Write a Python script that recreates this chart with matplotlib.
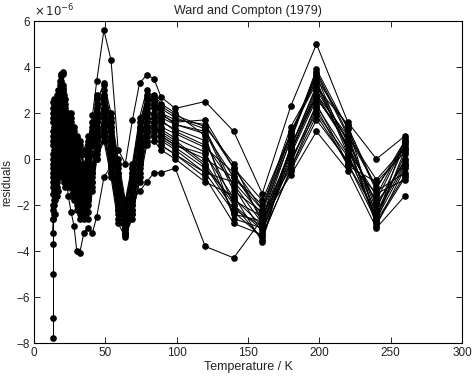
import matplotlib
matplotlib.use("Agg")
import matplotlib.pyplot as plt

plt.rcParams['font.family'] = ['Liberation Sans', 'DejaVu Sans']

# temperatures (K) shared by all fits
temps = [13, 14, 15, 16, 17, 18, 19, 20, 21, 22, 24, 26, 28, 30, 32, 35, 38, 41, 44,
         49, 54, 59, 64, 69, 74, 79, 84, 89, 99, 120, 140, 160, 180, 198, 220, 240, 260]

# residuals in units of 1e-6, one list per fit
s01 = [1.2, 2.0, 0.8, 2.4, 1.5, 3.0, 3.6, 3.8, 2.2, 1.8, 1.0, 1.6, 0.4, 0.9, -0.6, 0.2, 0.8, 1.9, 3.4,
       5.6, 4.3, 0.4, -0.2, 1.7, 3.3, 3.65, 3.5, 2.7, 2.2, 2.5, 1.2, -1.5, 2.3, 5.0, 1.6, 0.0, 1.0]
s02 = [-0.8, -1.8, -0.5, -1.2, 0.3, -0.6, 0.5, -0.2, -1.0, -0.4, -1.6, -2.3, -2.9, -4.0, -4.1, -3.2, -3.0, -3.2, -2.5,
       -0.8, -0.3, -1.2, -2.0, -1.8, -1.4, -1.0, -0.6, -0.6, -0.4, -3.8, -4.3, -2.6, -0.7, 1.2, -0.5, -3.0, -1.6]
s03 = [2.5, 1.0, 2.2, 0.6, 2.8, 1.9, 3.4, 2.6, 1.4, 2.0, 0.3, 0.9, -0.8, -0.2, -1.8, -2.3, -1.0, 0.2, 1.6,
       2.4, 1.2, -1.0, -2.6, -1.2, 0.8, 2.4, 2.6, 1.9, 1.6, 1.7, -0.4, -2.2, 1.4, 3.4, 0.2, -2.6, 0.9]
s04 = [-1.5, 0.4, -0.6, 1.2, 0.2, 2.2, 1.0, 2.9, 0.8, 1.5, -0.5, 0.5, -1.2, -0.6, -2.2, -1.4, -2.3, -0.4, 0.9,
       1.8, 0.2, -1.8, -3.2, -2.0, 0.2, 1.6, 1.8, 1.3, 0.9, 0.3, -2.4, -2.7, 0.9, 3.9, 1.3, -1.4, -0.6]
s05 = [0.6, 1.8, 1.2, 2.6, 1.6, 3.2, 2.0, 3.7, 1.8, 2.4, 1.2, 1.8, 0.6, 0.8, -0.4, -0.8, 0.2, 1.0, 2.2,
       3.0, 1.8, -0.2, -2.2, -0.6, 1.4, 2.8, 2.5, 2.2, 1.8, 1.3, -1.2, -3.2, 0.2, 2.6, 0.9, -2.2, 0.6]
s06 = [-2.6, -1.0, -1.8, 0.2, -0.8, 1.0, 0.0, 1.8, -0.4, 0.6, -1.2, -0.3, -1.8, -1.2, -2.6, -2.0, -1.6, -0.8, 0.4,
       1.2, -0.4, -2.4, -3.3, -2.6, -0.6, 1.0, 1.2, 0.8, 0.4, -0.6, -1.0, -2.4, -0.4, 2.2, -0.3, -1.0, 0.3]
s07 = [1.8, 0.2, 2.0, 1.0, 2.4, 0.8, 2.8, 1.4, 2.0, 0.4, 1.6, 0.0, 0.8, -1.0, 0.2, -1.6, -0.4, 0.6, 1.2,
       2.6, 0.9, -0.8, -2.4, -1.0, 1.0, 2.2, 2.2, 1.6, 1.3, 0.8, -2.0, -3.5, 0.5, 3.1, 1.5, -2.8, -0.8]
s08 = [-0.4, 1.2, 0.2, 1.8, 0.6, 2.6, 1.6, 3.1, 1.2, 1.0, 0.4, -0.8, 0.0, -1.6, -1.0, -2.6, -1.8, -0.2, 1.0,
       2.2, 0.6, -1.4, -2.9, -1.6, 0.4, 2.0, 1.6, 1.0, 0.6, 0.0, -0.8, -2.0, 1.1, 3.6, 0.4, -1.6, 0.8]
s09 = [2.2, 2.6, 1.6, 2.2, 3.0, 2.4, 3.7, 3.2, 2.6, 1.6, 2.0, 1.2, 1.4, 0.2, 0.6, -0.2, 0.4, 1.2, 2.6,
       3.2, 1.6, -0.6, -2.0, -0.4, 1.6, 2.6, 2.8, 2.4, 2.0, 1.0, -2.6, -3.0, -0.2, 2.4, -0.2, -2.4, -0.2]
s10 = [-3.2, -2.0, -1.0, -1.6, 0.0, -0.4, 1.2, 0.4, 0.8, -0.8, 0.6, -1.2, -0.6, -2.0, -1.2, -1.6, -2.6, -1.4, 0.0,
       0.8, -0.8, -2.8, -3.4, -2.4, -1.0, 0.6, 0.8, 0.4, 0.0, -1.0, -1.6, -3.6, 0.6, 2.8, 1.0, -1.2, 0.5]
s11 = [0.2, -0.6, 1.4, 0.4, 1.8, 1.2, 2.2, 2.4, 0.2, 1.2, -0.2, 1.4, -0.4, 0.4, -1.4, -0.6, -1.2, 0.2, 1.8,
       2.0, 0.8, -1.2, -2.7, -1.4, 0.6, 1.8, 2.0, 1.4, 1.1, 0.5, -0.6, -2.6, 1.2, 3.3, 0.7, -2.9, -0.4]
s12 = [-1.0, 0.8, -0.2, 1.6, 1.0, 2.0, 1.2, 2.2, 1.0, 0.0, 0.8, 0.4, -1.0, -0.4, -2.0, -1.0, -0.8, -0.6, 0.6,
       1.5, 0.0, -2.0, -3.0, -1.8, 0.0, 1.4, 1.5, 1.1, 0.7, -0.3, -2.2, -2.9, 0.0, 2.0, 0.1, -1.8, 0.7]
s13 = [1.0, 2.4, 0.6, 2.0, 2.6, 1.4, 3.0, 2.0, 2.8, 1.8, 1.4, 0.6, 0.2, 0.6, -0.8, -1.2, -0.2, 0.6, 2.0,
       2.8, 1.4, -0.6, -2.4, -0.8, 1.2, 2.4, 2.3, 2.0, 1.5, 1.2, -1.4, -2.3, 0.8, 3.8, 1.1, -2.5, 0.2]
s14 = [-2.0, -0.4, 0.8, -0.4, 1.2, 0.4, 2.0, 0.8, 1.6, -0.2, 0.2, -0.6, 0.4, -0.8, -0.4, -2.0, -1.4, -1.0, 0.2,
       1.0, -0.2, -2.2, -3.1, -2.2, -0.4, 1.2, 1.0, 0.6, 0.2, -0.8, -2.8, -3.3, -0.5, 1.7, -0.1, -1.5, -0.9]
s15 = [0.8, 1.6, 2.4, 1.4, 2.2, 3.4, 2.4, 3.0, 1.6, 2.2, 0.8, 1.0, 1.2, -0.2, 0.4, -0.4, -0.6, 0.8, 2.4,
       3.3, 2.0, 0.0, -1.8, -0.2, 1.8, 3.0, 2.7, 2.3, 1.9, 1.4, -0.2, -2.8, 0.4, 2.7, 0.6, -2.7, 0.4]
s16 = [-0.2, 0.6, -1.2, 0.8, -0.2, 1.6, 0.6, 2.6, 0.4, 0.8, -0.8, 0.2, -1.4, -1.0, -2.4, -1.8, -2.0, -1.2, 0.4,
       1.4, -0.6, -2.6, -3.2, -2.2, -0.2, 1.2, 1.4, 0.9, 0.5, -0.4, -1.8, -2.5, 0.3, 3.0, 0.8, -2.0, -0.1]
s17 = [0.0, 1.4, -0.8, 0.6, 2.0, 0.2, 1.8, 1.0, 0.2, 1.6, -0.6, 0.6, -0.2, -1.4, -0.8, -1.2, 0.0, 0.8, 1.4,
       2.2, 1.0, -1.0, -2.6, -1.2, 0.8, 2.2, 1.9, 1.7, 1.2, 0.6, -1.1, -2.8, 0.5, 3.2, 0.4, -2.3, 0.0]
s18 = [-1.2, -2.4, 0.0, -1.0, 0.8, -0.2, 0.4, 1.6, -0.6, 0.4, -1.0, -1.6, -0.8, -2.2, -1.8, -2.4, -1.0, -0.4, 0.6,
       1.6, -0.2, -1.8, -3.0, -2.0, -0.2, 1.4, 1.3, 1.2, 0.8, -0.2, -2.0, -3.1, -0.1, 2.3, 0.2, -2.6, -0.3]
s19 = [1.6, 0.8, 1.8, 2.8, 1.2, 2.8, 1.4, 2.2, 2.4, 1.4, 1.8, 0.8, 1.0, 0.4, -0.2, 0.4, 1.0, 1.4, 2.8,
       2.6, 1.4, -0.4, -2.2, -0.6, 1.2, 2.6, 2.4, 1.8, 1.5, 1.1, -0.8, -2.2, 1.0, 3.5, 1.4, -1.3, 0.8]
s20 = [-2.2, -1.4, -2.4, -0.6, -1.4, 0.6, -0.8, 1.2, 0.0, -1.2, 0.0, -0.4, -1.6, -0.2, -1.6, -0.4, -1.8, -1.0, 0.0,
       1.0, -0.6, -2.2, -3.2, -2.4, -0.8, 0.8, 1.0, 0.6, 0.2, -0.6, -2.3, -3.4, -0.4, 1.9, -0.2, -2.7, -0.7]
s21 = [2.0, 1.6, 0.4, 1.2, 2.6, 1.8, 2.4, 2.8, 1.4, 2.6, 1.0, 2.0, 0.2, 1.0, 0.8, -0.6, 0.6, 1.6, 1.8,
       2.8, 1.6, -0.2, -2.0, -0.4, 1.4, 2.6, 2.6, 2.0, 1.7, 1.5, -0.4, -1.8, 1.1, 3.7, 1.0, -0.9, 0.5]
s22 = [-0.6, 0.0, 0.6, -0.2, 0.4, 1.4, 0.2, 2.0, 0.6, -0.4, 0.4, -0.2, -1.2, -0.6, -1.0, -2.2, -1.4, -0.6, 0.8,
       1.8, 0.4, -1.6, -2.8, -1.8, 0.2, 1.6, 1.6, 1.0, 0.6, 0.2, -1.7, -2.9, 0.3, 2.8, 0.6, -1.9, -0.2]

# lowest-temperature points of one fit, all at the same temperature
low_t = [13.4, 13.4, 13.4, 13.4, 13.4]
low_res = [-7.8, -6.9, -5.0, -3.7, -2.6]

fits = [s01, s02, s03, s04, s05, s06, s07, s08, s09, s10, s11,
        s12, s13, s14, s15, s16, s17, s18, s19, s20, s21, s22]

fig = plt.figure(figsize=(4.74, 3.78), dpi=100)
ax = fig.add_axes([34 / 474, 35 / 378, 428 / 474, 322 / 378])

style = dict(color='black', lw=0.75, marker='o', ms=3.8, mfc='black', mec='black')
for res in fits:
    ax.plot(temps, res, **style)
ax.plot(low_t, low_res, **style)

txt = '#222222'
ax.set_xlim(0, 300)
ax.set_ylim(-8, 6)
ax.set_xticks(range(0, 301, 50))
ax.set_yticks(range(-8, 7, 2))
ax.tick_params(direction='in', top=True, right=True, length=4, width=0.6,
               labelsize=8.5, pad=3, labelcolor=txt)
for sp in ax.spines.values():
    sp.set_linewidth(0.8)

ax.set_xlabel('Temperature / K', fontsize=9, labelpad=1, color=txt)
ax.set_ylabel('residuals', fontsize=8.5, labelpad=2, color=txt)
ax.set_title('Ward and Compton (1979)', fontsize=9, pad=5, color=txt)
ax.text(0, 1.005, r'$\times\,10^{-6}$', transform=ax.transAxes, fontsize=8.5,
        ha='left', va='bottom', color=txt)

fig.savefig('out.png', dpi=100)
